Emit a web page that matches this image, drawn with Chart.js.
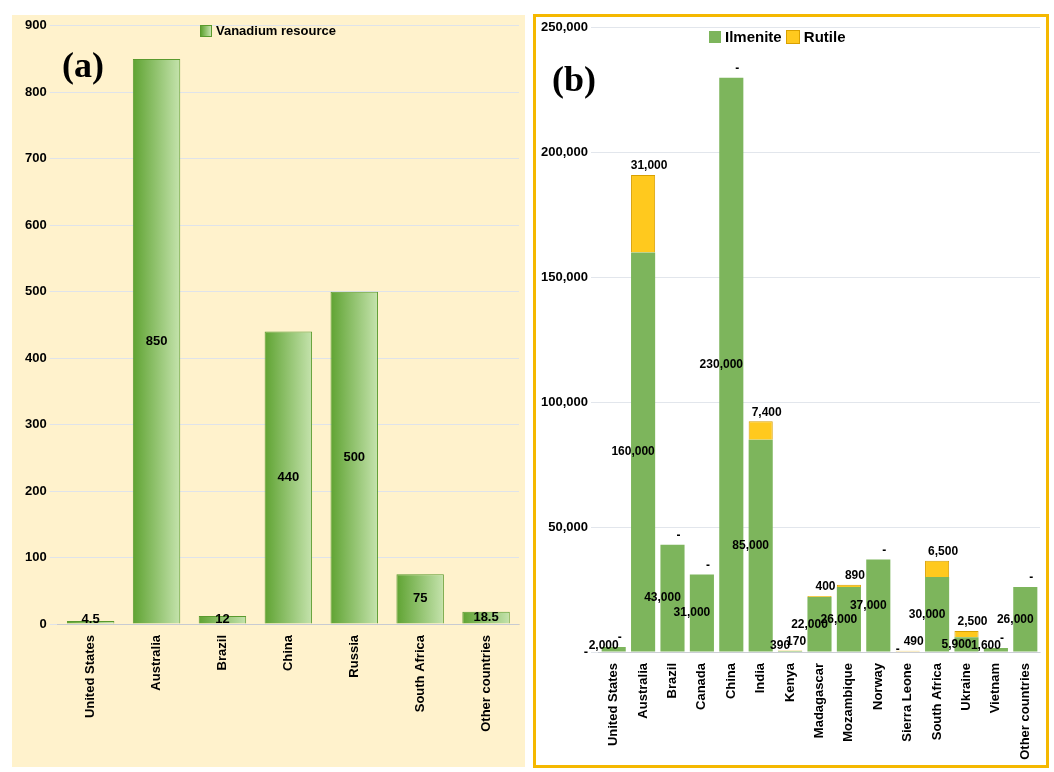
<!DOCTYPE html>
<html><head><meta charset="utf-8">
<script src="https://cdn.jsdelivr.net/npm/chart.js@4/dist/chart.umd.min.js"></script>
<style>
body{margin:0;background:#fff;font-family:"Liberation Sans",Arial,sans-serif;}
#pa{position:absolute;left:12px;top:15px;width:513px;height:752px;background:#fff2cc;}
#pb{position:absolute;left:533px;top:14px;width:510px;height:748px;border:3px solid #f5b800;background:#fff;}
.tag{position:absolute;font-family:"Liberation Serif",serif;font-weight:bold;font-size:36px;}
.leg{position:absolute;font-weight:bold;display:flex;align-items:center;}
.sw{display:inline-block;margin-right:4px;}
</style></head><body>
<div id="pa"><canvas id="ca"></canvas></div>
<div id="pb"><canvas id="cb"></canvas></div>
<div class="tag" style="left:62px;top:44px">(a)</div>
<div class="tag" style="left:552px;top:58px">(b)</div>
<div class="leg" style="left:200px;top:23px;font-size:13px"><span class="sw" style="width:10px;height:10px;background:linear-gradient(90deg,#5fa332,#c5e3ad);border:1px solid #5a9a2e"></span>Vanadium resource</div>
<div class="leg" style="left:709px;top:28px;font-size:15px"><span class="sw" style="width:12px;height:12px;background:#7db55c"></span>Ilmenite&nbsp;<span class="sw" style="width:12px;height:12px;background:#ffc91e;border:1px solid #d9a000"></span>Rutile</div>
<script>
const vanCountries = ["United States","Australia","Brazil","China","Russia","South Africa","Other countries"];
const vanadium = [4.5, 850, 12, 440, 500, 75, 18.5];

const tiCountries = ["United States","Australia","Brazil","Canada","China","India","Kenya","Madagascar","Mozambique","Norway","Sierra Leone","South Africa","Ukraine","Vietnam","Other countries"];
const ilmenite = [2000,160000,43000,31000,230000,85000,390,22000,26000,37000,0,30000,5900,1600,26000];
const rutile = [0,31000,0,0,0,7400,170,400,890,0,490,6500,2500,0,0];

const fmt = v => v === 0 ? "-" : v.toLocaleString("en-US");
const boldFont = {family:"Liberation Sans", weight:"bold", size:13};

new Chart(document.getElementById("ca"), {
  type: "bar",
  data: { labels: vanCountries, datasets: [{
    label: "Vanadium resource", data: vanadium,
    borderColor: "#5a9a2e", borderWidth: 1,
    barPercentage: 0.72, categoryPercentage: 1,
    backgroundColor: ctx => {
      const ch = ctx.chart, sx = ch.scales.x;
      if (!sx || !ch.chartArea || ctx.dataIndex === undefined) return "#7cb342";
      const cx = sx.getPixelForValue(ctx.dataIndex), w = sx.width / vanadium.length * 0.72;
      const g = ch.ctx.createLinearGradient(cx - w/2, 0, cx + w/2, 0);
      g.addColorStop(0, "#5fa332"); g.addColorStop(1, "#c5e3ad");
      return g;
    }
  }]},
  options: {
    responsive: true, maintainAspectRatio: false, animation: false,
    layout: {padding: {left: 10, right: 6, top: 0, bottom: 0}},
    plugins: {legend: {display: false}, tooltip: {enabled: false}},
    scales: {
      y: {min: 0, max: 900, ticks: {stepSize: 100, font: boldFont, color: "#000"}, grid: {color: "#dfe3ea"}, border: {display: false}},
      x: {ticks: {minRotation: 90, maxRotation: 90, font: boldFont, color: "#000"}, grid: {display: false},
          afterFit: s => { s.height = 143; }}
    }
  },
  plugins: [{
    id: "vals",
    afterDatasetsDraw(ch) {
      const c = ch.ctx, meta = ch.getDatasetMeta(0);
      c.save(); c.font = "bold 13px 'Liberation Sans'"; c.fillStyle = "#000"; c.textAlign = "center"; c.textBaseline = "middle";
      meta.data.forEach((b, i) => {
        const y = Math.min((b.y + b.base) / 2, b.base - 4);
        c.fillText(String(vanadium[i]), b.x, y);
      });
      c.restore();
    }
  }]
});

new Chart(document.getElementById("cb"), {
  type: "bar",
  data: { labels: tiCountries, datasets: [
    {label: "Ilmenite", data: ilmenite, backgroundColor: "#7db55c", barPercentage: 0.82, categoryPercentage: 1},
    {label: "Rutile", data: rutile, backgroundColor: "#ffc91e", borderColor: "#d9a000", borderWidth: 1, barPercentage: 0.82, categoryPercentage: 1}
  ]},
  options: {
    responsive: true, maintainAspectRatio: false, animation: false,
    layout: {padding: {left: 2, right: 6, top: 4, bottom: 0}},
    plugins: {legend: {display: false}, tooltip: {enabled: false}},
    scales: {
      y: {stacked: true, min: 0, max: 250000, ticks: {stepSize: 50000, font: boldFont, color: "#000", callback: v => fmt(v)}, grid: {color: "#e2e6ec"}, border: {display: false}},
      x: {stacked: true, ticks: {minRotation: 90, maxRotation: 90, font: boldFont, color: "#000"}, grid: {display: false},
          afterFit: s => { s.height = 113; }}
    }
  },
  plugins: [{
    id: "vals",
    afterDatasetsDraw(ch) {
      const c = ch.ctx, m0 = ch.getDatasetMeta(0), m1 = ch.getDatasetMeta(1);
      c.save(); c.font = "bold 12px 'Liberation Sans'"; c.fillStyle = "#000"; c.textAlign = "center"; c.textBaseline = "middle";
      m0.data.forEach((b, i) => {
        const y = Math.min((b.y + b.base) / 2, b.base - 6);
        c.fillText(fmt(ilmenite[i]), b.x - 10, ilmenite[i] === 0 ? b.base - 2 : y);
        const t = m1.data[i];
        c.fillText(fmt(rutile[i]), t.x + 6, Math.min(t.y, b.y) - 9);
      });
      c.restore();
    }
  }]
});
</script>
</body></html>
